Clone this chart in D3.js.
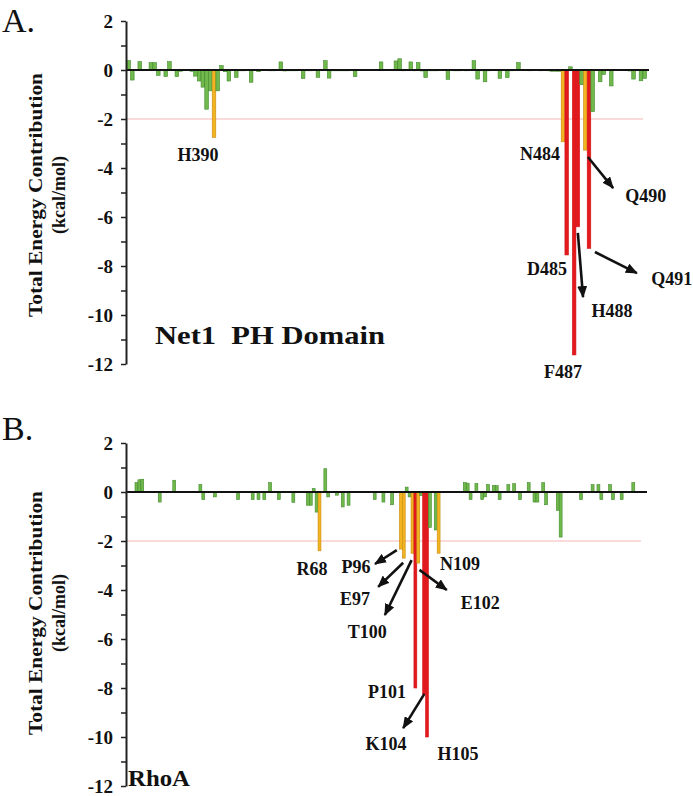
<!DOCTYPE html>
<html>
<head>
<meta charset="utf-8">
<script src="https://cdn.jsdelivr.net/npm/d3@7"></script>
<style>
  body { margin: 0; background: #fff; }
  svg { display: block; }
  text { font-family: "Liberation Serif", "Times New Roman", serif; }
</style>
</head>
<body>
<svg id="chart" width="693" height="796"></svg>
<script>
// ---------- DATA ----------
// Panel A: Net1 PH domain residues and per-residue energy (kcal/mol)
const netResidues = [367,368,370,373,374,375,377,378,380,381,384,385,386,387,388,389,390,391,392,393,394,396,397,398,400,402,405,406,408,409,410,411,412,414,415,416,418,420,421,422,423,424,425,426,428,435,439,440,441,443,444,445,446,447,448,449,450,453,455,456,458,460,461,462,463,464,467,469,470,472,475,478,480,481,482,483,484,485,486,487,488,489,490,491,492,494,495,497,502,503,505,506];
const netValues   = [0.38,-0.41,0.34,0.30,0.30,-0.22,-0.27,0.34,-0.27,-0.05,-0.05,-0.25,-0.45,-0.70,-1.60,-0.85,-2.75,-0.85,0.18,-0.07,-0.45,-0.30,-0.03,-0.03,-0.50,-0.07,-0.03,-0.03,0.33,-0.04,-0.03,-0.03,-0.03,-0.35,-0.03,-0.03,-0.30,0.38,-0.33,-0.03,-0.03,-0.03,-0.03,-0.03,-0.27,0.33,0.37,0.46,-0.03,0.33,-0.03,0.30,-0.04,-0.31,-0.03,-0.03,-0.03,-0.38,-0.03,-0.03,-0.03,0.38,-0.37,-0.03,-0.48,-0.03,-0.34,-0.31,-0.03,0.30,-0.03,-0.03,-0.03,-0.05,-0.05,-0.05,-2.93,-7.55,0.13,-11.63,-6.40,-0.60,-3.27,-7.28,-1.70,-0.48,-0.18,-0.65,-0.04,-0.37,-0.44,-0.34];

// Panel B: RhoA residues and per-residue energy (kcal/mol)
const rhoResidues = [5,6,7,13,18,27,28,32,40,45,47,49,51,54,59,64,65,66,67,68,70,71,74,76,78,87,90,93,96,97,98,99,100,101,102,103,104,105,106,108,109,118,119,120,122,124,125,126,128,129,130,133,135,137,140,142,143,145,146,150,151,158,162,164,165,168,169,172,176];
const rhoValues   = [0.38,0.50,0.52,-0.41,0.48,0.30,-0.31,-0.20,-0.31,-0.31,-0.31,-0.31,0.38,-0.31,-0.42,-0.54,-0.54,0.14,-0.82,-2.40,0.95,-0.20,-0.13,-0.61,-0.54,-0.31,-0.41,-0.52,-2.33,-2.70,0.20,-0.20,-2.50,-8.00,-2.90,-0.15,-8.25,-10.00,-1.45,-1.55,-2.50,0.38,0.36,-0.31,0.34,-0.31,-0.20,0.30,0.26,0.26,-0.31,0.30,0.34,-0.31,0.38,-0.41,-0.41,0.38,-0.52,-0.75,-1.84,-0.31,0.30,0.30,-0.31,0.30,-0.31,-0.31,0.38];

// Y axis tick values
const yTicks = [2,1,0,-1,-2,-3,-4,-5,-6,-7,-8,-9,-10,-11,-12];
const yDomain = [2, -12];
const threshold = -2;

// Annotations (in data units: residue, kcal/mol)
const netLabels = [
  {text:"H390", res:385.7, val:-3.71},
  {text:"N484", res:477.8, val:-3.67},
  {text:"D485", res:479.7, val:-8.37},
  {text:"F487", res:484.0, val:-12.57},
  {text:"H488", res:497.2, val:-10.08},
  {text:"Q490", res:506.3, val:-5.39},
  {text:"Q491", res:513.3, val:-8.78}
];
const netArrows = [
  {r1:490.7, v1:-3.55, r2:497.5, v2:-4.82},
  {r1:488.0, v1:-6.65, r2:489.4, v2:-9.27},
  {r1:492.6, v1:-7.43, r2:503.9, v2:-8.29}
];
const rhoLabels = [
  {text:"R68", res:65.4, val:-3.39},
  {text:"P96", res:80.6, val:-3.31},
  {text:"E97", res:80.2, val:-4.61},
  {text:"T100", res:84.4, val:-5.96},
  {text:"P101", res:91.2, val:-8.41},
  {text:"K104", res:90.9, val:-10.53},
  {text:"H105", res:115.7, val:-10.94},
  {text:"N109", res:116.4, val:-3.18},
  {text:"E102", res:123.3, val:-4.78}
];
const rhoArrows = [
  {r1:94.6, v1:-2.37, r2:87.1, v2:-2.94},
  {r1:96.8, v1:-2.89, r2:88.2, v2:-3.87},
  {r1:99.7, v1:-2.78, r2:90.5, v2:-5.02},
  {r1:102.4, v1:-3.18, r2:111.8, v2:-4.00},
  {r1:104.1, v1:-8.24, r2:96.8, v2:-9.64}
];

// ---------- DRAW ----------
const svg = d3.select("#chart");

const defs = svg.append("defs");
defs.append("marker")
  .attr("id","arrowhead")
  .attr("markerUnits","userSpaceOnUse")
  .attr("viewBox","0 0 12 10")
  .attr("refX",11).attr("refY",5)
  .attr("markerWidth",12).attr("markerHeight",10)
  .attr("orient","auto")
  .append("path").attr("d","M0,0 L12,5 L0,10 Z").attr("fill","#111");

const fillColor = d3.scaleThreshold().domain([-5, -2]).range(["#e3191c", "#f2b420", "#72b94d"]);
const strokeColor = d3.scaleThreshold().domain([-5, -2]).range(["#d0151a", "#c98a12", "#3f8a2a"]);

function panel(cfg) {
  const g = svg.append("g");
  const x = d3.scaleLinear().domain(cfg.xDomain).range(cfg.xRange);
  const y = d3.scaleLinear().domain(yDomain).range(cfg.yRange);

  // threshold line
  g.append("line")
    .attr("x1", cfg.axisX + 1).attr("x2", cfg.threshEnd)
    .attr("y1", y(threshold)).attr("y2", y(threshold))
    .attr("stroke", "#f3b8b8").attr("stroke-width", 1.2);

  // bars
  const data = cfg.residues.map((r, i) => ({res: r, val: cfg.values[i]}));
  g.selectAll("rect.bar").data(data).enter().append("rect")
    .attr("class","bar")
    .attr("x", d => x(d.res) - cfg.barW / 2)
    .attr("width", cfg.barW)
    .attr("y", d => Math.min(y(0), y(d.val)))
    .attr("height", d => Math.max(0.8, Math.abs(y(d.val) - y(0))))
    .attr("fill", d => fillColor(d.val))
    .attr("stroke", d => strokeColor(d.val))
    .attr("stroke-width", 0.6);

  // zero line
  g.append("line")
    .attr("x1", cfg.axisX).attr("x2", cfg.zeroEnd)
    .attr("y1", y(0)).attr("y2", y(0))
    .attr("stroke", "#111").attr("stroke-width", 2);

  // y axis
  const axis = d3.axisLeft(y)
    .tickValues(yTicks)
    .tickSize(5)
    .tickSizeOuter(0)
    .tickFormat(d => (d % 2 === 0 ? String(d) : ""));
  const ag = g.append("g").attr("transform", `translate(${cfg.axisX},0)`).call(axis);
  ag.select(".domain").attr("stroke", "#222").attr("stroke-width", 2);
  ag.selectAll(".tick line").attr("stroke", "#222").attr("stroke-width", 1.5);
  ag.selectAll(".tick text")
    .attr("x", -13)
    .attr("dy", "0.36em")
    .attr("fill", "#111")
    .style("font-family", '"Liberation Serif", "Times New Roman", serif')
    .style("font-weight", "bold")
    .style("font-size", "19px");

  // y axis title
  const midY = cfg.titleY;
  g.append("text")
    .attr("transform", `translate(${cfg.titleX1},${midY}) rotate(-90)`)
    .attr("text-anchor","middle")
    .attr("textLength", 244).attr("lengthAdjust","spacingAndGlyphs")
    .style("font-weight","bold").style("font-size","19px").attr("fill","#111")
    .text("Total Energy Contribution");
  g.append("text")
    .attr("transform", `translate(${cfg.titleX2},${midY}) rotate(-90)`)
    .attr("text-anchor","middle")
    .attr("textLength", 78).attr("lengthAdjust","spacingAndGlyphs")
    .style("font-weight","bold").style("font-size","19px").attr("fill","#111")
    .text("(kcal/mol)");

  // panel letter
  g.append("text")
    .attr("x", 2).attr("y", cfg.letterY)
    .style("font-size","34px").attr("fill","#111")
    .text(cfg.letter);

  // panel name
  g.append("text")
    .attr("x", cfg.nameX).attr("y", cfg.nameY)
    .attr("textLength", cfg.nameLen).attr("lengthAdjust","spacingAndGlyphs")
    .style("font-weight","bold").style("font-size", cfg.nameSize).attr("fill","#111")
    .attr("xml:space","preserve")
    .text(cfg.name);

  // residue labels
  g.selectAll("text.lab").data(cfg.labels).enter().append("text")
    .attr("class","lab")
    .attr("x", d => x(d.res)).attr("y", d => y(d.val))
    .attr("text-anchor","middle")
    .style("font-weight","bold").style("font-size","18px").attr("fill","#111")
    .text(d => d.text);

  // arrows
  g.selectAll("line.arrow").data(cfg.arrows).enter().append("line")
    .attr("class","arrow")
    .attr("x1", d => x(d.r1)).attr("y1", d => y(d.v1))
    .attr("x2", d => x(d.r2)).attr("y2", d => y(d.v2))
    .attr("stroke","#111").attr("stroke-width",2.6)
    .attr("marker-end","url(#arrowhead)");
}

panel({
  residues: netResidues, values: netValues,
  xDomain: [390, 484], xRange: [214, 563],
  yRange: [21, 364],
  axisX: 126, zeroEnd: 649, threshEnd: 643, barW: 3.6,
  titleX1: 42, titleX2: 65, titleY: 195,
  letter: "A.", letterY: 32,
  name: "Net1  PH Domain", nameX: 155, nameY: 344, nameLen: 230, nameSize: "26px",
  labels: netLabels, arrows: netArrows
});

panel({
  residues: rhoResidues, values: rhoValues,
  xDomain: [68, 105], xRange: [319.5, 427],
  yRange: [443, 786],
  axisX: 126, zeroEnd: 647, threshEnd: 641, barW: 2.9,
  titleX1: 42, titleX2: 65, titleY: 613,
  letter: "B.", letterY: 440,
  name: "RhoA", nameX: 128, nameY: 786, nameLen: 62, nameSize: "24px",
  labels: rhoLabels, arrows: rhoArrows
});
</script>
</body>
</html>
